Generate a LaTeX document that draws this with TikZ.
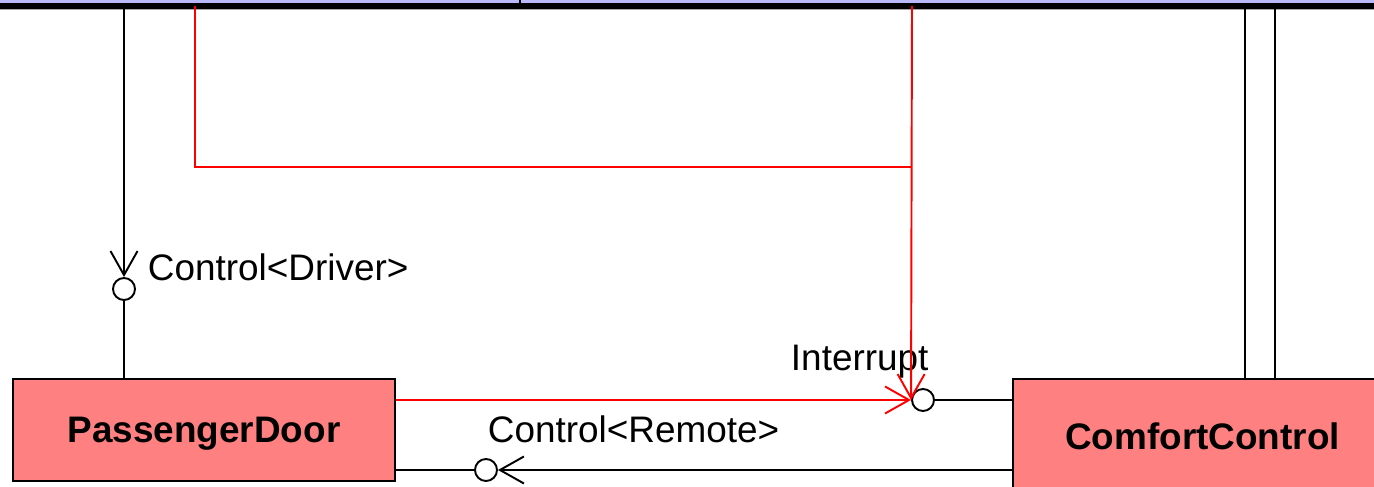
\documentclass[tikz,border=0pt]{standalone}
\usepackage{fontspec}
\setmainfont{Liberation Sans}
\usepackage{tikz}
\usetikzlibrary{arrows.meta}

\definecolor{compfill}{RGB}{255,128,128}
\definecolor{busfill}{RGB}{185,185,250}

\begin{document}
\begin{tikzpicture}[line width=1.1pt, font=\fontsize{21}{25}\selectfont]
       \tikzstyle{wire} = [draw=black]
       \tikzstyle{redwire} = [draw=red]
       \tikzstyle{arrow} = [wire,-{Straight Barb[length=0.48cm,width=0.54cm]}]
       \tikzstyle{redarrow} = [redwire,-{Straight Barb[length=0.48cm,width=0.54cm]}]
       \tikzstyle{comp} = [rectangle, draw=black, line width=1pt, fill=compfill, font=\fontsize{21}{25}\selectfont\bfseries, text centered]
       \tikzstyle{port} = [circle, draw=black, fill=white, minimum size=0.44cm, inner sep=0pt]
       \tikzstyle{lbl} = [inner sep=0pt, anchor=base west]
       \useasboundingbox (0,0) rectangle (27.48,-9.74);
       \clip (0,0) rectangle (27.48,-9.74);

       % bus along the top edge
       \path[fill=busfill] (-1,1) rectangle (28.5,-0.12);
       \draw[black!35, line width=0.6pt] (-1,-0.19) -- (28.5,-0.19);
       \draw[line width=0.114cm] (-1,-0.12) -- (28.5,-0.12);
       \draw[line width=0.8pt] (10.4,0.1) -- (10.4,-0.12);

       \node (door) [comp, minimum width=7.64cm, minimum height=2.04cm, text depth=0pt] at (4.08,-8.6) {PassengerDoor};
       \node (comfort) [comp, minimum width=7.58cm, minimum height=2.28cm] at (24.05,-8.72) {ComfortControl};

       \node (p-driver) [port] at (2.48,-5.78) {};
       \node (p-int) [port] at (18.46,-8.0) {};
       \node (p-rem) [port] at (9.72,-9.4) {};

       \node (l-driver) [lbl] at (2.94,-5.62) {Control<Driver>};
       \node (l-int) [lbl] at (15.8,-7.42) {Interrupt};
       \node (l-rem) [lbl] at (9.74,-8.86) {Control<Remote>};

       \coordinate (t-driver) at (2.48,-0.12);
       \coordinate (t-red-A) at (3.9,-0.12);
       \coordinate (t-red-B) at (18.24,-0.12);
       \coordinate (junction) at (18.24,-3.34);

       \draw [arrow] (t-driver) -- (p-driver.north);
       \draw [wire] (p-driver.south) -- (p-driver |- door.north);

       \draw [redwire] (t-red-A) |- (junction);
       \draw [redarrow] (t-red-B) -- (p-int.west);
       \draw [redarrow] (door.east |- p-int) -- (p-int.west);
       \draw [wire] (p-int.east) -- (comfort.west |- p-int);

       \draw [wire] (door.east |- p-rem) -- (p-rem.west);
       \draw [arrow] (comfort.west |- p-rem) -- (p-rem.east);

        \foreach \i/\x in {1/24.9,2/25.5}
        {
          \coordinate (t-\i) at (\x,-0.12);
          \draw [wire] (t-\i) -- (t-\i |- comfort.north);
        }

   \end{tikzpicture}
\end{document}
